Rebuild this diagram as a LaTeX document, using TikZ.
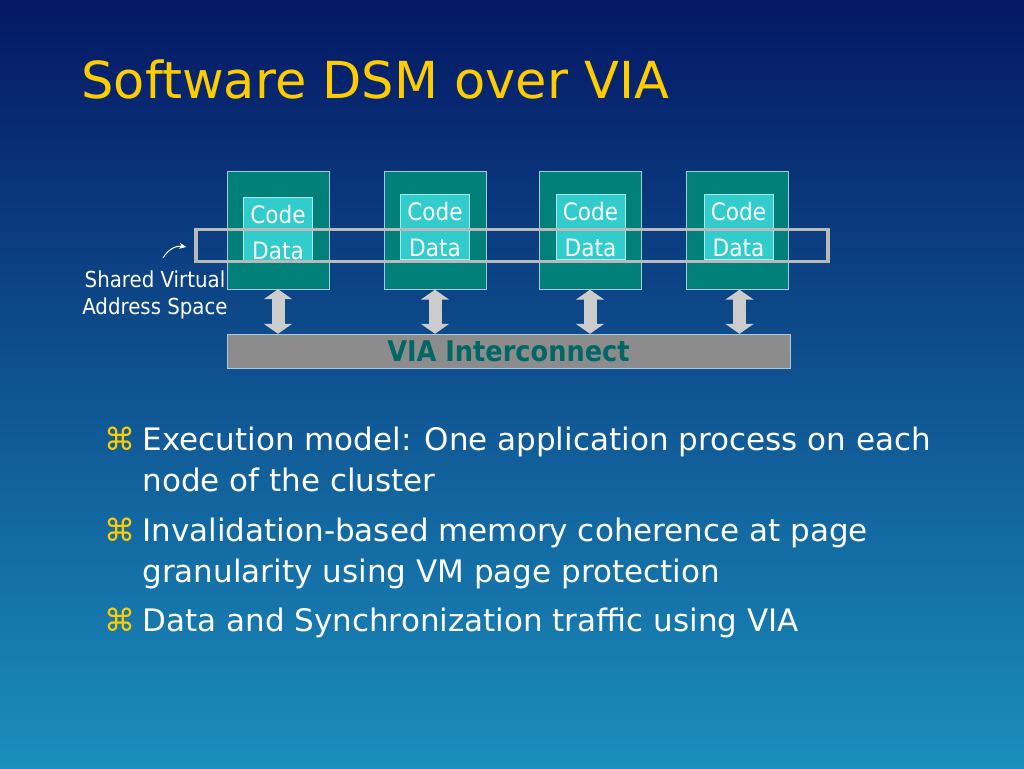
\documentclass[tikz,border=0pt]{standalone}
\usepackage{fontspec}
\setmainfont{DejaVu Sans}
\newfontfamily\labelfont{DejaVu Sans Condensed}
\usetikzlibrary{arrows.meta}
\definecolor{navytop}{RGB}{4,24,100}
\definecolor{bluebot}{RGB}{26,142,190}
\definecolor{titleyellow}{RGB}{255,204,0}
\definecolor{nodeteal}{RGB}{0,128,120}
\definecolor{memteal}{RGB}{51,204,204}
\definecolor{viagrey}{RGB}{140,140,140}
\definecolor{viatext}{RGB}{0,102,102}
\definecolor{edgeblue}{RGB}{168,200,220}

\begin{document}
\begin{tikzpicture}[x=1pt,y=-1pt]
  \tikzset{
    host/.style={draw=edgeblue, fill=nodeteal, minimum width=102pt, minimum height=118pt, inner sep=0pt},
    mem/.style={draw=memteal!40!white, fill=memteal, minimum width=69pt, minimum height=65pt, inner sep=0pt,
      align=center, text=white, font=\labelfont\fontsize{24}{36}\selectfont},
    band/.style={draw=gray!55, line width=3.5pt, minimum width=632pt, minimum height=32pt, inner sep=0pt},
    link/.style={{Triangle[width=28pt,length=10pt]}-{Triangle[width=28pt,length=10pt]}, line width=13pt, draw=gray!40},
    pointer/.style={-{Stealth[length=7pt,width=6pt]}, white, line width=1pt},
    item/.style={anchor=north west, align=left, text=white, font=\fontsize{31}{41}\selectfont},
    bulletsym/.style={anchor=north west, text=titleyellow, font=\fontsize{31}{41}\selectfont}
  }
  % background
  \shade[top color=navytop, bottom color=bluebot] (0,0) rectangle (1024,768);
  \useasboundingbox (0,0) rectangle (1024,768);

  % title
  \node[anchor=west, text=titleyellow, font=\fontsize{51}{56}\selectfont] (title) at (78,79) {Software DSM over VIA};

  % hosts
  \node[host] (h1) at (278,230) {};
  \node[host] (h2) at (435,230.5) {};
  \node[host] (h3) at (590,230.5) {};
  \node[host] (h4) at (737.5,230.5) {};
  \node[mem] (m1) at (278,229.5) {\rule{0pt}{24pt}Code\\Data};
  \node[mem] (m2) at (435,227) {\rule{0pt}{24pt}Code\\Data};
  \node[mem] (m3) at (590.5,227) {\rule{0pt}{24pt}Code\\Data};
  \node[mem] (m4) at (738.5,227) {\rule{0pt}{24pt}Code\\Data};

  % shared address space
  \node[band] (svas) at (512,245.5) {};
  \node[align=center, text=white, font=\labelfont\fontsize{22}{27}\selectfont] (svaslbl) at (155,295) {Shared Virtual\\Address Space};
  \coordinate (ptr) at (163,258);
  \draw[pointer] (ptr) to[bend left=35] ([xshift=-8pt,yshift=-1.5pt]svas.west);

  % interconnect
  \node[draw=edgeblue, fill=viagrey, minimum width=563pt, minimum height=34pt, inner sep=0pt,
    text=viatext, font=\labelfont\bfseries\fontsize{28.5}{30}\selectfont] (via) at (508.5,351) {VIA Interconnect};

  % links
  \draw[link] (h1.south) -- (h1.south |- via.north);
  \draw[link] (h2.south) -- (h2.south |- via.north);
  \draw[link] (h3.south) -- (h3.south |- via.north);
  \draw[link] ([xshift=2pt]h4.south) -- ([xshift=2pt]h4.south |- via.north);

  % bullets
  \node[bulletsym] (k1) at (101,423) {⌘};
  \node[item] (b1) at (139,423) {Execution model: One application process on each\\node of the cluster};
  \node[bulletsym] (k2) at (101,514) {⌘};
  \node[item] (b2) at (139,514) {Invalidation-based memory coherence at page\\granularity using VM page protection};
  \node[bulletsym] (k3) at (101,604) {⌘};
  \node[item] (b3) at (139,604) {Data and Synchronization traffic using VIA};
\end{tikzpicture}
\end{document}
